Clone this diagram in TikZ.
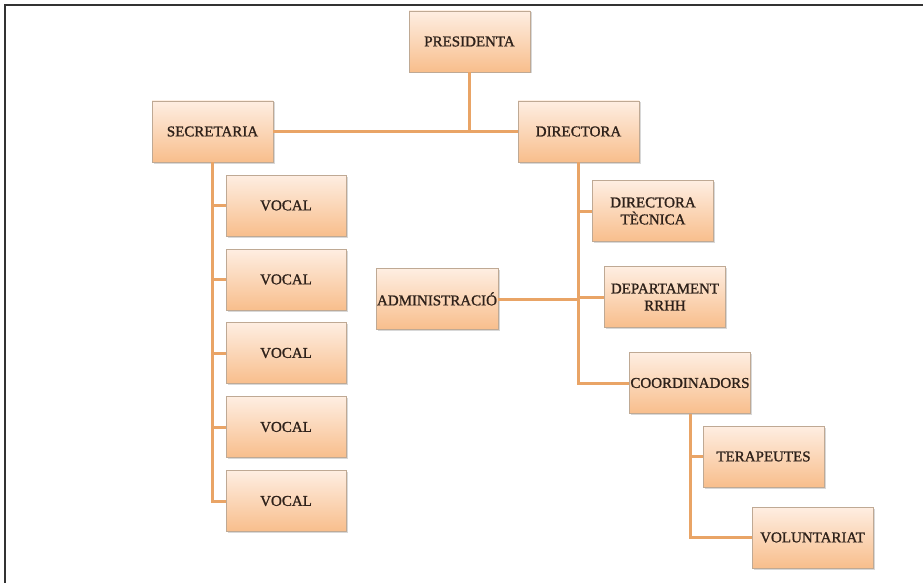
\documentclass[tikz,border=0pt]{standalone}
\usepackage{fontspec}
\setmainfont{Liberation Serif}
\newfontfamily\boxfont{Liberation Serif}[FakeBold=1.2]
\usetikzlibrary{shadows}
\definecolor{linec}{HTML}{E9A466}
\definecolor{boxtop}{HTML}{FEEEE2}
\definecolor{boxbot}{HTML}{F8BE8C}
\definecolor{boxedge}{HTML}{BFA994}
\definecolor{txt}{HTML}{2E211A}
\tikzset{
  orgbox/.style={rectangle, minimum width=121pt, minimum height=61pt, inner sep=1pt,
    top color=boxtop, bottom color=boxbot, draw=boxedge, line width=0.8pt,
    drop shadow={shadow xshift=1.5pt, shadow yshift=-1.5pt, opacity=0.25, fill=black!60},
    align=center, font=\boxfont\fontsize{15}{17}\selectfont, text=txt},
  conn/.style={draw=linec, line width=3pt}
}
\begin{document}
\begin{tikzpicture}[x=1pt,y=-1pt]
\useasboundingbox (0,0) rectangle (923,583);
\fill[white] (0,0) rectangle (923,583);
\draw[line width=2pt, black!80] (5,583) -- (5,5) -- (923,5);
\node[orgbox] (pres) at (469.5,41.5) {PRESIDENTA};
\node[orgbox] (sec) at (212.5,131.5) {SECRETARIA};
\node[orgbox] (dir) at (578.5,131.5) {DIRECTORA};
\node[orgbox, minimum width=120pt] (v1) at (286,205.5) {VOCAL};
\node[orgbox, minimum width=120pt] (v2) at (286,279.5) {VOCAL};
\node[orgbox, minimum width=120pt] (v3) at (286,353) {VOCAL};
\node[orgbox, minimum width=120pt] (v4) at (286,427) {VOCAL};
\node[orgbox, minimum width=120pt] (v5) at (286,501) {VOCAL};
\node[orgbox] (dt) at (653,211) {DIRECTORA\\TÈCNICA};
\node[orgbox] (rrhh) at (665,297) {DEPARTAMENT\\RRHH};
\node[orgbox, minimum width=120pt] (adm) at (437,299) {ADMINISTRACIÓ};
\node[orgbox] (coord) at (690,383) {COORDINADORS};
\node[orgbox] (ter) at (763.5,456.5) {TERAPEUTES};
\node[orgbox] (vol) at (812.5,537.5) {VOLUNTARIAT};
% connectors
\draw[conn] (pres.south) -- (pres.south |- sec.east);
\draw[conn] (sec.east) -- (dir.west);
\draw[conn] (sec.south) -- (sec.south |- v5.west) -- (v5.west);
\foreach \v in {v1,v2,v3,v4} \draw[conn] (sec.south |- \v.west) -- (\v.west);
\draw[conn] (dir.south) -- (dir.south |- coord.west) -- (coord.west);
\draw[conn] (dir.south |- dt.west) -- (dt.west);
\draw[conn] (dir.south |- rrhh.west) -- (rrhh.west);
\draw[conn] (adm.east) -- (dir.south |- adm.east);
\draw[conn] (coord.south) -- (coord.south |- vol.west) -- (vol.west);
\draw[conn] (coord.south |- ter.west) -- (ter.west);
\end{tikzpicture}
\end{document}
